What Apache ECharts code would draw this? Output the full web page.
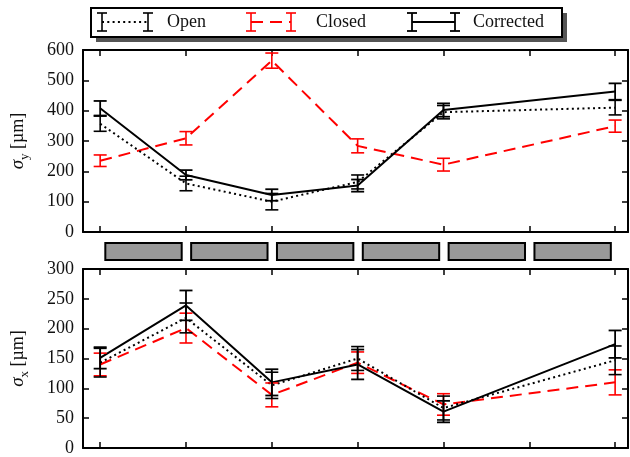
<!DOCTYPE html>
<html>
<head>
<meta charset="utf-8">
<script src="https://cdn.jsdelivr.net/npm/echarts@6/dist/echarts.min.js"></script>
<style>
  html, body { margin: 0; padding: 0; background: #fff; }
  #chart { width: 630px; height: 457px; }
</style>
</head>
<body>
<div id="chart"></div>
<script>
// Monitor positions along the line (index units)
const positions = [0, 1, 2, 3, 4, 6];
const tickPositions = [0, 1, 2, 3, 4, 5, 6];

// Vertical beam size sigma_y [um]
const sigmaYOpen = [357, 160, 100, 165, 395, 410];
const sigmaYOpenErr = [25, 24, 27, 23, 22, 24];
const sigmaYClosed = [235, 309, 565, 284, 222, 349];
const sigmaYClosedErr = [19, 22, 25, 23, 21, 20];
const sigmaYCorrected = [408, 188, 122, 153, 402, 463];
const sigmaYCorrectedErr = [24, 16, 19, 20, 22, 27];

// Horizontal beam size sigma_x [um]
const sigmaXOpen = [143, 218, 105, 150, 67, 147];
const sigmaXOpenErr = [24, 25, 22, 20, 20, 24];
const sigmaXClosed = [140, 201, 89, 143, 73, 110];
const sigmaXClosedErr = [19, 25, 20, 18, 18, 21];
const sigmaXCorrected = [151, 239, 110, 140, 61, 174];
const sigmaXCorrectedErr = [18, 25, 22, 25, 18, 23];

// Magnet blocks between monitors (start, end) in position units
const magnetStart = [0.06, 1.06, 2.06, 3.06, 4.06, 5.06];
const magnetEnd = [0.95, 1.95, 2.95, 3.95, 4.95, 5.95];

const seriesNames = ['Open', 'Closed', 'Corrected'];

const FONT = 'Liberation Serif';
const X_MIN = -0.2, X_MAX = 6.15;

function zip(vals, errs) {
  return positions.map((p, i) => [p, vals[i], errs[i]]);
}
function pts(vals) {
  return positions.map((p, i) => [p, vals[i]]);
}

function errRenderer(color, lw, capHalf) {
  return function (params, api) {
    const x = api.value(0), y = api.value(1), e = api.value(2);
    const top = api.coord([x, y + e]);
    const bot = api.coord([x, y - e]);
    const st = { stroke: color, lineWidth: lw };
    return {
      type: 'group',
      children: [
        { type: 'line', shape: { x1: top[0], y1: top[1], x2: bot[0], y2: bot[1] }, style: st },
        { type: 'line', shape: { x1: top[0] - capHalf, y1: top[1], x2: top[0] + capHalf, y2: top[1] }, style: st },
        { type: 'line', shape: { x1: bot[0] - capHalf, y1: bot[1], x2: bot[0] + capHalf, y2: bot[1] }, style: st }
      ]
    };
  };
}

const styles = {
  Open: { color: '#000', type: [2, 3.3], width: 2, errW: 1.6 },
  Closed: { color: '#ff0000', type: [12, 7], width: 2, errW: 1.6 },
  Corrected: { color: '#000', type: 'solid', width: 2, errW: 1.8 }
};

function panelSeries(xi, yi, data) {
  const out = [];
  ['Closed', 'Open', 'Corrected'].forEach(name => {
    const s = styles[name];
    const [vals, errs] = data[name];
    out.push({
      type: 'line', name: name, xAxisIndex: xi, yAxisIndex: yi,
      data: pts(vals), symbol: 'none', silent: true,
      lineStyle: { color: s.color, width: s.width, type: s.type },
      z: 3
    });
    out.push({
      type: 'custom', name: name + ' err', xAxisIndex: xi, yAxisIndex: yi,
      data: zip(vals, errs), renderItem: errRenderer(s.color, s.errW, 6.5),
      silent: true, z: 4
    });
  });
  return out;
}

const axisLineStyle = { lineStyle: { color: '#000', width: 2 } };
const tickStyle = { inside: true, length: 6, lineStyle: { color: '#000', width: 1.5 } };

function xAx(gi, pos) {
  return {
    type: 'value', gridIndex: gi, position: pos, min: X_MIN, max: X_MAX,
    axisLine: { show: true, onZero: false, ...axisLineStyle },
    axisTick: { show: true, ...tickStyle, customValues: tickPositions },
    axisLabel: { show: false },
    splitLine: { show: false }
  };
}

function yAx(gi, pos, max, interval, name) {
  const ax = {
    type: 'value', gridIndex: gi, position: pos, min: 0, max: max, interval: interval,
    axisLine: { show: true, onZero: false, ...axisLineStyle },
    axisTick: { show: true, ...tickStyle },
    axisLabel: { show: pos === 'left', fontFamily: FONT, fontSize: 18, color: '#111', margin: 9 },
    splitLine: { show: false }
  };
  if (name) {
    ax.name = name;
    ax.nameLocation = 'middle';
    ax.nameRotate = 90;
    ax.nameGap = 52;
    ax.nameTextStyle = {
      fontFamily: FONT, fontSize: 18, color: '#111',
      rich: {
        s: { fontFamily: FONT, fontSize: 19, fontStyle: 'italic', lineHeight: 26, verticalAlign: 'middle' },
        sub: { fontFamily: FONT, fontSize: 13, lineHeight: 12, verticalAlign: 'bottom' },
        t: { fontFamily: FONT, fontSize: 18, lineHeight: 26, verticalAlign: 'middle' }
      }
    };
  }
  return ax;
}

// Legend drawn as graphic elements: frame with shadow, error-bar icons, labels
const legendY = 22;
const legendItems = [
  { name: 'Open', x1: 102, x2: 148, tx: 167 },
  { name: 'Closed', x1: 251, x2: 291, tx: 316 },
  { name: 'Corrected', x1: 412, x2: 455, tx: 473 }
];
const legendGraphics = [
  { type: 'rect', shape: { x: 96, y: 13, width: 471, height: 29 }, style: { fill: '#555' }, z: 10 },
  { type: 'rect', shape: { x: 91, y: 8, width: 471, height: 29 }, style: { fill: '#fff', stroke: '#000', lineWidth: 2 }, z: 11 }
];
legendItems.forEach(it => {
  const s = styles[it.name];
  legendGraphics.push({
    type: 'line', shape: { x1: it.x1, y1: legendY, x2: it.x2, y2: legendY },
    style: { stroke: s.color, lineWidth: s.width, lineDash: s.type === 'solid' ? null : s.type }, z: 12
  });
  [it.x1, it.x2].forEach(xx => {
    const st = { stroke: s.color, lineWidth: s.errW };
    legendGraphics.push({ type: 'line', shape: { x1: xx, y1: 13, x2: xx, y2: 31 }, style: st, z: 12 });
    legendGraphics.push({ type: 'line', shape: { x1: xx - 5, y1: 13, x2: xx + 5, y2: 13 }, style: st, z: 12 });
    legendGraphics.push({ type: 'line', shape: { x1: xx - 5, y1: 31, x2: xx + 5, y2: 31 }, style: st, z: 12 });
  });
  legendGraphics.push({
    type: 'text', x: it.tx, y: legendY,
    style: { text: it.name, fontFamily: FONT, fontSize: 18, fill: '#111', textVerticalAlign: 'middle', verticalAlign: 'middle' },
    z: 12
  });
});

const magnetData = magnetStart.map((s, i) => [s, magnetEnd[i]]);

const option = {
  animation: false,
  backgroundColor: '#fff',
  grid: [
    { left: 83, top: 50, width: 545, height: 182 },
    { left: 83, top: 243, width: 545, height: 17 },
    { left: 83, top: 269, width: 545, height: 182 }
  ],
  xAxis: [
    xAx(0, 'bottom'), xAx(0, 'top'),
    { type: 'value', gridIndex: 1, min: X_MIN, max: X_MAX, show: false },
    xAx(2, 'bottom'), xAx(2, 'top')
  ],
  yAxis: [
    yAx(0, 'left', 600, 100, '{s|σ}{sub|y}{t| [µm]}'), yAx(0, 'right', 600, 100),
    { type: 'value', gridIndex: 1, min: 0, max: 1, show: false },
    yAx(2, 'left', 300, 50, '{s|σ}{sub|x}{t| [µm]}'), yAx(2, 'right', 300, 50)
  ],
  graphic: legendGraphics,
  series: [
    ...panelSeries(0, 0, {
      Open: [sigmaYOpen, sigmaYOpenErr],
      Closed: [sigmaYClosed, sigmaYClosedErr],
      Corrected: [sigmaYCorrected, sigmaYCorrectedErr]
    }),
    {
      type: 'custom', name: 'magnets', xAxisIndex: 2, yAxisIndex: 2, data: magnetData, silent: true,
      renderItem: function (params, api) {
        const a = api.coord([api.value(0), 1]);
        const b = api.coord([api.value(1), 0]);
        return {
          type: 'rect',
          shape: { x: a[0], y: a[1], width: b[0] - a[0], height: b[1] - a[1] },
          style: { fill: '#999999', stroke: '#000', lineWidth: 2 }
        };
      }
    },
    ...panelSeries(3, 3, {
      Open: [sigmaXOpen, sigmaXOpenErr],
      Closed: [sigmaXClosed, sigmaXClosedErr],
      Corrected: [sigmaXCorrected, sigmaXCorrectedErr]
    })
  ]
};

const chart = echarts.init(document.getElementById('chart'), null, { renderer: 'canvas' });
chart.setOption(option);
</script>
</body>
</html>
